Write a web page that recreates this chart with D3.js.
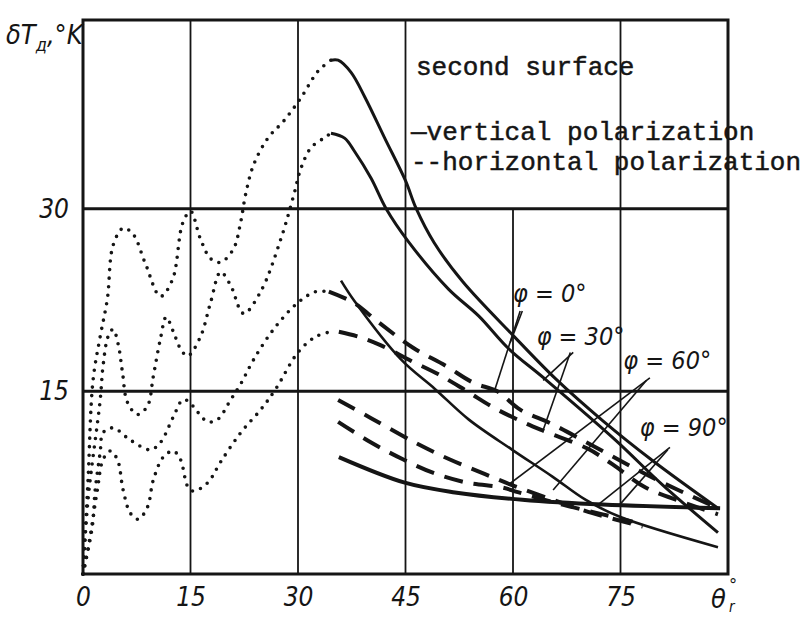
<!DOCTYPE html>
<html><head><meta charset="utf-8">
<script src="https://cdn.jsdelivr.net/npm/d3@7"></script>
<style>body{margin:0;background:#fff}svg{display:block}</style>
</head><body><svg id="c" width="809" height="618"></svg>
<script>
// ---- data (θ in degrees, δT in K) ----
const xTickValues = [0, 15, 30, 45, 60, 75];
const yTickValues = [15, 30];
const yTickLabels = ["15", "30"];

// dotted part (θ < ~35°)
const dotted1 = [[0,0],[0.7,7.7],[1.4,15.9],[2.4,19.5],[3.4,22.6],[4.2,27.0],[5.6,28.4],[7.0,27.9],[8.7,25.5],[10.8,22.8],[12.5,24.2],[13.9,28.8],[15.0,29.8],[16.4,27.5],[17.8,25.9],[19.2,25.6],[21.0,26.7],[22.0,28.9],[22.7,31.2],[23.8,33.6],[25.8,35.8],[28.0,37.2],[30.4,39.1],[32.8,41.3],[34.6,42.2]];
const dotted2 = [[0,0],[0.7,6.1],[2.4,14.3],[2.8,17.1],[3.5,19.5],[4.2,20.1],[4.9,18.9],[5.5,16.6],[6.2,14.1],[7.6,13.1],[9.0,13.8],[9.8,16.2],[10.8,19.3],[11.6,21.1],[12.6,19.9],[13.6,18.5],[14.6,17.9],[16.4,19.5],[17.8,22.3],[19.2,24.8],[20.6,23.7],[22.4,21.4],[24.8,23.2],[27.6,27.5],[29.4,31.1],[30.4,33.3],[31.8,35.0],[33.6,35.8],[34.6,36.2]];
const dotted3 = [[0,0],[1.3,3.9],[1.7,6.9],[2.4,10.0],[2.8,11.6],[4.2,12.0],[6.6,11.0],[9.4,10.2],[10.8,10.8],[12.6,12.9],[13.9,14.3],[14.7,14.2],[16.0,13.3],[17.4,12.5],[18.8,12.7],[20.6,14.3],[22.0,15.6],[23.8,17.6],[26.6,20.1],[30.0,22.3],[32.5,23.2],[33.9,23.2]];
const dotted4 = [[0,0],[1.0,3.1],[2.0,6.9],[2.8,9.4],[3.8,10.1],[4.8,9.4],[5.6,6.9],[6.6,5.0],[7.7,4.5],[9.0,5.5],[9.8,7.7],[11.2,9.6],[12.6,10.1],[13.6,9.4],[14.6,7.2],[15.4,6.8],[17.4,7.5],[19.2,9.2],[22.0,11.6],[24.8,13.5],[26.9,15.2],[30.0,18.2],[32.5,19.5],[34.6,19.9]];

// vertical polarization (solid)
const vert1 = [[34.6,42.2],[35.6,42.2],[37.4,41.2],[39.3,39.2],[42.1,35.8],[45.0,32.3],[46.5,30.0],[49.0,27.2],[53.0,24.0],[60.0,19.6],[66.0,16.0],[72.5,12.6],[79.5,9.3],[88.6,5.4]];
const vert2 = [[34.6,36.2],[36.5,35.8],[37.9,34.7],[40.2,32.5],[42.3,30.0],[45.4,27.3],[51.0,23.4],[55.2,21.2],[59.4,18.5],[64.5,16.0],[74.3,11.0],[80.9,7.3],[88.6,3.4]];
const vert3 = [[36.0,24.1],[37.9,22.4],[44.4,17.6],[49.1,15.2],[53.8,12.7],[59.9,10.2],[65.5,8.0],[70.1,6.1],[74.9,4.7],[88.6,2.2]];
const vert4 = [[35.7,9.6],[44.9,7.5],[51.9,6.7],[61.3,6.1],[72.5,5.7],[88.9,5.4]];

// horizontal polarization (dashed)
const hor1 = [[34.3,23.2],[37.7,22.3],[41.4,20.6],[46.0,18.6],[50.6,17.1],[54.5,15.7],[57.8,15.0],[61.0,13.5],[65.5,12.3],[72.5,10.1],[79.5,7.9],[88.6,5.4]];
const hor2 = [[35.7,19.9],[38.4,19.5],[41.5,18.8],[45.8,17.5],[49.6,16.4],[53.6,15.0],[57.5,13.6],[61.3,12.5],[64.5,11.7],[70.4,10.3],[73.9,9.0],[78.5,7.1],[83.7,5.9],[88.6,4.9]];
const hor3 = [[35.6,14.3],[40.2,12.8],[46.3,10.8],[51.2,9.4],[56.1,8.2],[60.3,7.2],[65.5,6.1],[71.1,5.0],[78.1,3.9]];
const hor4 = [[35.6,12.5],[40.2,10.8],[44.7,9.4],[48.9,8.3],[53.6,7.5],[58.5,7.1],[60.8,6.7],[66.9,5.7],[72.5,4.9],[76.7,4.3]];

// φ annotations: label anchor and leader lines (data units)
const phiLabels = ["φ = 0°", "φ = 30°", "φ = 60°", "φ = 90°"];
const phiLabelPos = [[60.0,22.3],[63.3,18.8],[75.4,16.8],[77.7,11.3]];
const phiLeaders = [
  [[[61.3,21.6],[59.6,19.0]], [[61.0,21.6],[57.5,15.2]]],
  [[[68.4,18.2],[64.2,15.9]], [[68.0,18.2],[64.2,11.8]]],
  [[[79.1,16.1],[59.3,7.3]], [[78.6,15.9],[65.6,6.9]]],
  [[[81.9,10.4],[72.1,5.8]], [[81.6,10.2],[74.9,5.7]]]
];
const legendLines = ["second surface", "—vertical polarization", "--horizontal polarization"];

// ---- drawing ----
const svg = d3.select("#c");
svg.append("rect").attr("width",809).attr("height",618).attr("fill","#fff");
const x = d3.scaleLinear([0, 90], [83, 728]);
const y = d3.scaleLinear([0, 45.5], [574, 20]);
const ink = "#151515";

const g = svg.append("g");
// vertical grid
[15, 30, 45, 75].forEach(v => g.append("line").attr("x1",x(v)).attr("x2",x(v)).attr("y1",y(0)).attr("y2",y(45.5)).attr("stroke",ink).attr("stroke-width",1.8));
g.append("line").attr("x1",x(60)).attr("x2",x(60)).attr("y1",y(0)).attr("y2",y(30)).attr("stroke",ink).attr("stroke-width",1.8);
// horizontal grid
yTickValues.forEach(v => g.append("line").attr("x1",x(0)).attr("x2",x(90)).attr("y1",y(v)).attr("y2",y(v)).attr("stroke",ink).attr("stroke-width",3));
// frame
g.append("rect").attr("x",x(0)).attr("y",y(45.5)).attr("width",x(90)-x(0)).attr("height",y(0)-y(45.5)).attr("fill","none").attr("stroke",ink).attr("stroke-width",3);

// axes labels
const tickFont = "'DejaVu Sans Condensed','DejaVu Sans',sans-serif";
const xAxis = d3.axisBottom(x).tickValues(xTickValues).tickSize(0).tickPadding(0).tickFormat(d3.format("d"));
const xa = svg.append("g").attr("transform",`translate(0,${y(0)+14})`).call(xAxis);
xa.select(".domain").remove();
xa.selectAll("text").attr("font-family",tickFont).attr("font-style","italic").attr("font-size",26).attr("fill",ink).attr("dy","0.71em");
const yAxis = d3.axisLeft(y).tickValues(yTickValues).tickSize(0).tickPadding(0).tickFormat((d,i)=>yTickLabels[i]);
const ya = svg.append("g").attr("transform",`translate(${x(0)-14},0)`).call(yAxis);
ya.select(".domain").remove();
ya.selectAll("text").attr("font-family",tickFont).attr("font-style","italic").attr("font-size",26).attr("fill",ink);

// axis titles
const yt = svg.append("text").attr("x",6).attr("y",44).attr("font-family",tickFont).attr("font-style","italic").attr("font-size",27).attr("fill",ink);
yt.append("tspan").text("δT");
yt.append("tspan").attr("dy",7).attr("font-size",18).text("д");
yt.append("tspan").attr("dy",-7).text(",°K");
const titleFont = {family: tickFont};
svg.append("text").attr("x",x(90)-17).attr("y",y(0)+34).attr("font-family",tickFont).attr("font-style","italic").attr("font-size",27).attr("fill",ink).text("θ");
svg.append("text").attr("x",x(90)+1).attr("y",y(0)+17).attr("font-family",tickFont).attr("font-style","italic").attr("font-size",18).attr("fill",ink).text("°");
svg.append("text").attr("x",x(90)+1).attr("y",y(0)+38).attr("font-family",tickFont).attr("font-style","italic").attr("font-size",15).attr("fill",ink).text("r");

// curves
const line = d3.line().x(d=>x(d[0])).y(d=>y(d[1])).curve(d3.curveCatmullRom.alpha(0.5));
const curves = svg.append("g").attr("fill","none").attr("stroke",ink);
[dotted1, dotted2, dotted3, dotted4].forEach(d => curves.append("path").attr("d",line(d)).attr("stroke-width",3.6).attr("stroke-linecap","round").attr("stroke-dasharray","0 8.5"));
[vert1, vert2, vert3].forEach((d,i) => curves.append("path").attr("d",line(d)).attr("stroke-width",i===2?2.6:3));
curves.append("path").attr("d",line(vert4)).attr("stroke-width",4);
[hor1, hor2, hor3, hor4].forEach(d => curves.append("path").attr("d",line(d)).attr("stroke-width",4).attr("stroke-dasharray","19 11"));

// φ annotations
const ann = svg.append("g");
phiLeaders.forEach(pair => pair.forEach(seg => ann.append("line")
  .attr("x1",x(seg[0][0])).attr("y1",y(seg[0][1])).attr("x2",x(seg[1][0])).attr("y2",y(seg[1][1]))
  .attr("stroke",ink).attr("stroke-width",1.6)));
phiLabels.forEach((t,i) => ann.append("text").attr("x",x(phiLabelPos[i][0])).attr("y",y(phiLabelPos[i][1]))
  .attr("font-family",tickFont).attr("font-style","italic").attr("font-size",25).attr("fill",ink).text(t));

// legend text
legendLines.forEach((t,i) => svg.append("text").attr("x",i===0?416:411).attr("y",[75,140,170][i])
  .attr("font-family","'Liberation Mono','DejaVu Sans Mono',monospace").attr("font-size",26).attr("fill",ink)
  .attr("stroke",ink).attr("stroke-width",0.5)
  .attr("xml:space","preserve").text(t));
</script></body></html>
